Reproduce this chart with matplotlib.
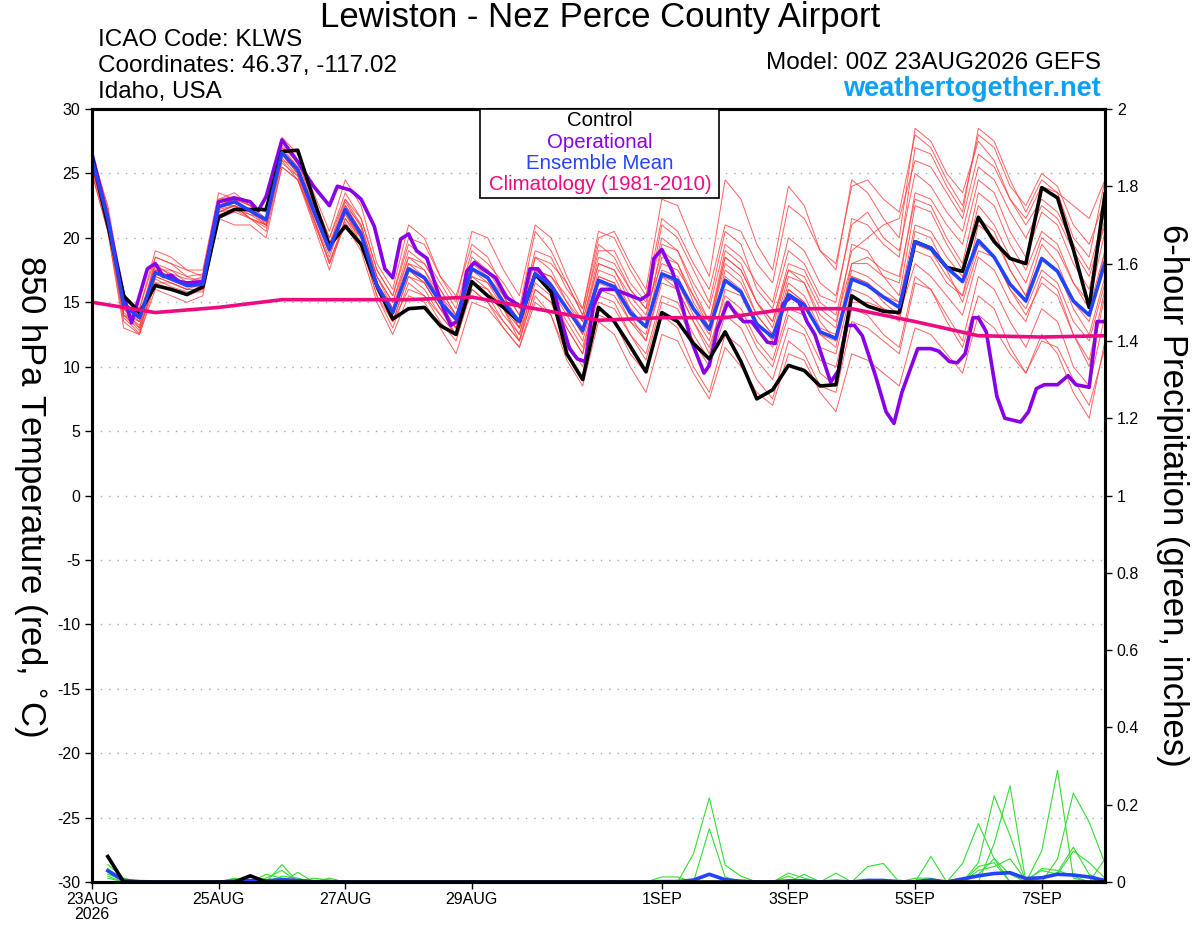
import numpy as np
import matplotlib
matplotlib.use('Agg')
import matplotlib.pyplot as plt
from matplotlib.patches import Rectangle

plt.rcParams['font.family'] = ['Liberation Sans', 'DejaVu Sans']
plt.rcParams['axes.unicode_minus'] = False

# forecast hours (6-hourly, 23AUG 00Z to 8SEP 00Z)
hours = np.arange(0, 385, 6)

tick_hours = [0, 48, 96, 144, 216, 264, 312, 360]
tick_labels = ['23AUG\n2026', '25AUG', '27AUG', '29AUG', '1SEP', '3SEP', '5SEP', '7SEP']

# 850 hPa temperature (C)
control = [26.3, 21.0, 15.5, 14.2, 16.3, 16.0, 15.6, 16.2, 21.6, 22.2,
           22.2, 22.2, 26.7, 26.8, 23.0, 19.4, 20.9, 19.5, 16.3, 13.7,
           14.5, 14.6, 13.2, 12.5, 16.6, 15.5, 14.6, 13.5, 17.2, 15.8,
           11.0, 9.0, 14.6, 13.5, 11.6, 9.6, 14.2, 13.5, 11.8, 10.6,
           12.7, 10.4, 7.5, 8.2, 10.1, 9.7, 8.5, 8.6, 15.5, 14.7,
           14.3, 14.2, 19.7, 19.2, 17.7, 17.4, 21.6, 19.7, 18.4, 18.0,
           23.9, 23.1, 19.1, 14.6, 23.4]
ens_mean = [26.1, 21.5, 14.8, 13.8, 17.3, 16.8, 16.3, 16.4, 22.4, 22.8,
            22.1, 21.4, 26.6, 25.3, 22.1, 19.1, 22.2, 20.3, 16.3, 14.2,
            17.6, 16.9, 15.0, 13.7, 17.6, 16.9, 15.0, 13.5, 17.2, 16.3,
            14.5, 12.8, 16.7, 16.2, 14.2, 13.1, 17.2, 16.7, 14.5, 12.9,
            16.7, 15.8, 13.3, 12.3, 15.6, 14.8, 12.7, 12.2, 16.8, 16.3,
            15.4, 14.6, 19.7, 19.2, 17.7, 16.6, 19.8, 18.5, 16.4, 15.1,
            18.4, 17.4, 15.1, 14.0, 18.1]

# operational run (finer time steps)
op_hours = [0, 6, 12, 15, 18, 21, 24, 27, 30, 33, 36, 42, 48, 54, 60, 63, 66,
            72, 78, 84, 90, 93, 98, 102, 107, 111, 114, 117, 120, 123, 127,
            129, 133, 136, 139, 142, 145, 148, 153, 157, 163, 166, 169, 175,
            178, 181, 184, 187, 190, 193, 198, 203, 208, 211, 213, 216, 220,
            223, 227, 232, 234, 237, 241, 244, 247, 250, 256, 259, 262, 265,
            268, 271, 274, 280, 283, 286, 289, 292, 297, 301, 304, 307, 313,
            318, 321, 325, 328, 331, 334, 336, 339, 343, 346, 352, 355, 358,
            361, 366, 370, 373, 378, 381, 384]
op_temp = [26.5, 21.5, 15.5, 13.4, 15.5, 17.6, 18.0, 17.0, 17.1, 16.6, 16.5,
           16.6, 22.8, 23.1, 22.8, 22.1, 23.2, 27.6, 25.9, 24.0, 22.5, 24.0,
           23.7, 23.0, 20.9, 17.6, 16.9, 19.9, 20.3, 19.0, 18.4, 17.1, 14.6,
           13.2, 13.6, 17.4, 18.1, 17.6, 16.9, 15.4, 14.6, 17.6, 17.6, 16.0,
           13.5, 11.4, 10.6, 10.4, 14.7, 16.0, 16.0, 15.6, 15.2, 15.6, 18.4,
           19.1, 17.4, 15.3, 12.1, 9.5, 10.1, 12.9, 15.0, 14.1, 13.5, 13.5,
           11.9, 11.8, 14.9, 15.4, 15.0, 13.5, 12.5, 8.8, 9.7, 13.2, 13.2,
           12.4, 9.3, 6.5, 5.6, 8.0, 11.4, 11.4, 11.2, 10.4, 10.3, 11.0,
           13.8, 13.8, 12.7, 7.7, 6.0, 5.7, 6.5, 8.3, 8.6, 8.6, 9.3, 8.6,
           8.4, 13.5, 13.5]

clim_hours = [0, 24, 48, 72, 96, 120, 144, 168, 192, 216, 240, 264, 288, 312, 336, 360, 384]
clim_temp = [15.0, 14.2, 14.6, 15.2, 15.2, 15.2, 15.4, 14.5, 13.6, 13.8, 13.8,
             14.5, 14.5, 13.5, 12.4, 12.3, 12.4]

# ensemble members
mem01 = [25.5, 21.0, 14.0, 13.0, 18.5, 18.0, 17.0, 17.2, 23.0, 23.2, 22.5, 21.0, 27.5, 26.0, 23.0, 20.0, 23.5,
         21.5, 17.5, 15.5, 19.5, 18.5, 16.5, 14.5, 19.0, 18.0, 16.5, 14.5, 20.5, 19.0, 16.5, 14.0, 19.5,
         18.5, 16.0, 14.5, 21.0, 20.0, 17.5, 15.0, 20.5, 19.5, 16.0, 14.5, 19.0, 18.0, 15.5, 15.0, 21.5,
         21.0, 19.5, 18.5, 27.0, 26.5, 24.0, 22.0, 28.5, 27.5, 24.5, 22.0, 24.5, 23.5, 20.0, 18.5, 24.5]
mem02 = [25.0, 20.5, 13.0, 12.5, 16.0, 15.5, 15.0, 15.5, 21.5, 22.0, 21.5, 20.5, 25.5, 24.5, 21.5, 18.0, 21.0,
         19.0, 15.0, 12.5, 15.5, 15.0, 13.0, 11.0, 15.0, 14.5, 13.0, 11.5, 15.5, 14.0, 10.5, 8.5, 13.5,
         12.5, 10.0, 8.0, 12.5, 12.0, 9.5, 7.5, 11.5, 10.0, 8.0, 7.0, 11.0, 10.5, 8.0, 6.5, 11.0,
         10.5, 9.5, 8.5, 13.0, 12.5, 11.0, 9.5, 14.0, 13.0, 11.0, 9.5, 12.0, 11.5, 9.0, 7.0, 11.5]
mem03 = [26.0, 22.0, 15.0, 14.0, 17.5, 17.0, 16.5, 16.5, 22.5, 23.0, 22.0, 21.5, 26.5, 25.0, 22.0, 19.0, 22.5,
         20.5, 16.0, 14.0, 18.0, 17.5, 15.0, 13.5, 18.5, 17.5, 15.5, 13.0, 18.5, 17.5, 15.0, 13.0, 18.0,
         17.5, 15.0, 13.5, 19.5, 19.0, 16.0, 13.5, 19.0, 18.0, 15.0, 13.5, 17.5, 16.5, 14.0, 13.0, 19.5,
         19.0, 17.0, 15.5, 22.5, 22.0, 19.5, 17.5, 22.5, 21.0, 18.5, 16.5, 20.0, 19.0, 16.5, 15.0, 20.5]
mem04 = [26.5, 22.5, 15.5, 14.5, 19.0, 18.5, 17.5, 17.5, 23.5, 23.0, 22.5, 22.0, 27.8, 26.5, 23.5, 20.5, 24.5,
         22.5, 18.0, 16.0, 21.0, 20.0, 17.0, 15.0, 20.5, 20.0, 17.5, 15.5, 21.0, 20.0, 17.0, 14.5, 20.0,
         20.5, 18.0, 16.0, 23.0, 22.5, 19.5, 17.0, 24.5, 23.0, 19.5, 17.5, 24.0, 22.5, 19.0, 17.5, 24.5,
         23.5, 21.5, 20.0, 28.5, 27.5, 25.0, 23.5, 27.5, 26.0, 23.0, 21.0, 23.0, 22.0, 19.5, 17.5, 22.0]
mem05 = [25.8, 21.5, 14.5, 13.5, 17.0, 16.5, 16.0, 16.0, 22.0, 22.5, 22.0, 21.0, 26.0, 25.5, 22.5, 19.5, 22.0,
         20.0, 16.5, 14.5, 17.5, 16.5, 14.5, 13.0, 17.0, 16.0, 14.0, 12.5, 16.5, 15.5, 13.5, 11.5, 16.0,
         15.5, 13.5, 12.0, 16.5, 16.0, 13.5, 11.5, 15.5, 14.5, 12.0, 10.5, 14.5, 14.0, 11.5, 11.0, 16.0,
         15.5, 14.5, 13.5, 19.5, 19.0, 17.0, 15.5, 21.0, 20.0, 17.5, 15.5, 19.5, 18.0, 15.0, 13.5, 19.0]
mem06 = [25.5, 21.0, 14.0, 13.5, 17.5, 17.5, 17.0, 16.5, 22.5, 22.5, 21.5, 21.0, 26.5, 25.0, 22.0, 19.0, 22.0,
         20.5, 17.0, 15.0, 19.0, 18.0, 16.0, 14.0, 17.5, 17.0, 15.5, 13.5, 17.5, 17.0, 15.5, 13.5, 18.5,
         18.0, 16.0, 14.5, 18.0, 17.5, 15.5, 13.5, 18.5, 17.5, 15.0, 13.5, 18.0, 17.5, 15.0, 14.0, 19.0,
         20.0, 21.0, 21.5, 26.0, 25.5, 23.5, 21.5, 26.5, 25.5, 23.0, 21.5, 24.0, 23.5, 22.5, 21.5, 24.5]
mem07 = [26.0, 21.5, 14.5, 13.0, 16.5, 16.0, 15.5, 16.0, 22.0, 22.5, 22.0, 21.5, 26.0, 24.5, 21.0, 17.5, 21.5,
         19.5, 15.5, 13.0, 16.5, 15.5, 13.5, 12.0, 16.0, 15.0, 13.0, 11.5, 15.0, 14.0, 11.0, 9.0, 14.0,
         13.5, 11.0, 9.5, 14.0, 13.0, 10.0, 8.0, 12.5, 11.5, 9.0, 7.5, 12.0, 11.0, 8.5, 8.0, 13.5,
         13.0, 12.0, 11.0, 16.5, 16.0, 14.0, 12.0, 17.0, 16.0, 13.5, 11.5, 14.5, 13.5, 10.0, 8.5, 14.0]
mem08 = [26.5, 22.0, 15.0, 14.0, 18.0, 17.0, 16.5, 17.0, 23.0, 23.5, 22.5, 22.0, 27.0, 26.0, 22.5, 19.5, 23.0,
         21.0, 17.0, 14.5, 18.5, 18.0, 16.0, 14.0, 18.0, 17.5, 16.0, 14.0, 19.0, 18.5, 16.0, 14.5, 20.5,
         20.0, 17.5, 15.5, 21.5, 20.5, 18.0, 16.0, 21.0, 20.5, 18.0, 16.5, 22.5, 21.5, 19.0, 18.0, 24.0,
         24.5, 23.0, 22.0, 28.0, 27.0, 24.5, 22.5, 28.0, 27.0, 24.0, 22.5, 25.0, 24.0, 21.0, 19.5, 23.0]
mem09 = [25.0, 20.5, 13.5, 12.5, 16.5, 16.5, 16.0, 16.5, 21.5, 21.0, 21.0, 20.0, 25.5, 24.5, 21.5, 18.5, 22.0,
         19.5, 16.0, 13.5, 17.0, 16.5, 14.5, 12.5, 16.5, 16.0, 14.5, 12.0, 17.0, 16.0, 13.0, 11.0, 17.0,
         16.5, 14.0, 12.0, 17.0, 16.0, 13.5, 11.0, 16.0, 15.5, 13.0, 11.5, 16.0, 15.0, 12.5, 11.5, 17.0,
         16.5, 15.0, 14.0, 20.5, 20.0, 17.5, 15.0, 19.0, 18.5, 16.0, 14.0, 16.5, 15.5, 12.5, 10.0, 15.5]
mem10 = [26.0, 21.5, 14.0, 12.8, 17.0, 16.5, 16.0, 16.0, 22.0, 22.5, 21.5, 21.0, 26.5, 25.0, 21.5, 18.0, 21.5,
         20.0, 16.0, 13.5, 16.0, 15.5, 14.0, 12.5, 16.0, 15.0, 13.5, 12.0, 16.0, 15.0, 12.0, 10.0, 15.0,
         14.5, 12.5, 10.5, 15.0, 14.5, 12.0, 10.0, 14.0, 13.0, 10.5, 9.0, 13.0, 12.5, 9.5, 8.5, 14.5,
         14.0, 12.5, 11.5, 17.0, 16.0, 13.5, 11.5, 15.5, 14.5, 11.5, 9.5, 12.5, 11.0, 8.0, 6.0, 12.0]
mem11 = [25.5, 21.0, 14.5, 13.5, 18.0, 17.5, 16.5, 16.5, 22.5, 23.0, 22.5, 21.5, 27.0, 25.5, 22.5, 19.5, 22.5,
         21.0, 17.0, 15.0, 18.5, 17.5, 15.5, 14.0, 18.0, 17.0, 15.0, 13.5, 17.5, 16.5, 14.5, 12.5, 17.5,
         17.0, 14.5, 13.0, 18.5, 18.0, 15.5, 13.0, 18.0, 17.0, 14.0, 12.5, 17.0, 16.5, 13.5, 12.0, 18.0,
         18.0, 17.0, 16.5, 23.5, 23.0, 21.0, 19.5, 24.5, 23.5, 20.5, 18.5, 22.0, 21.0, 18.0, 16.0, 21.5]
mem12 = [26.2, 21.8, 14.8, 13.8, 17.8, 17.2, 16.8, 16.8, 22.8, 22.8, 22.0, 21.2, 26.8, 25.5, 22.0, 19.0, 22.8,
         20.8, 16.5, 14.5, 18.0, 17.0, 15.5, 13.5, 17.5, 16.5, 15.0, 13.0, 17.0, 16.0, 14.0, 12.0, 16.5,
         16.0, 13.5, 12.5, 17.5, 17.0, 14.5, 12.5, 17.0, 16.0, 13.5, 12.0, 16.5, 15.5, 13.0, 12.5, 17.5,
         17.0, 16.0, 15.0, 21.0, 20.5, 18.5, 17.0, 21.5, 20.5, 17.5, 15.5, 18.5, 17.5, 14.5, 12.5, 17.0]
mem13 = [25.3, 20.8, 13.8, 12.6, 17.2, 16.8, 16.2, 16.5, 22.2, 22.5, 21.8, 21.0, 26.2, 24.8, 21.8, 18.8, 21.8,
         20.0, 16.5, 14.0, 17.5, 17.0, 15.0, 13.0, 17.0, 16.5, 14.5, 13.0, 17.5, 16.5, 14.5, 12.5, 17.0,
         16.5, 14.5, 13.0, 17.0, 16.5, 14.0, 12.0, 17.5, 16.5, 14.0, 12.5, 16.0, 15.0, 12.5, 12.0, 17.0,
         16.5, 15.5, 15.0, 19.0, 18.5, 16.5, 15.5, 19.5, 18.5, 16.0, 14.5, 17.5, 16.5, 13.5, 12.0, 16.5]
mem14 = [26.8, 22.2, 15.2, 14.5, 18.5, 18.0, 17.5, 17.0, 22.5, 23.0, 22.0, 21.5, 27.2, 25.8, 23.0, 20.0, 23.0,
         21.5, 17.5, 15.5, 20.0, 19.5, 17.0, 15.5, 19.5, 18.5, 16.0, 14.0, 18.5, 18.0, 16.5, 14.0, 19.0,
         19.0, 16.5, 15.0, 20.0, 19.0, 16.5, 14.5, 19.5, 18.5, 16.5, 15.0, 20.0, 19.0, 16.5, 15.5, 21.0,
         22.0, 20.0, 19.0, 25.0, 24.0, 22.0, 20.5, 25.5, 24.5, 22.0, 20.0, 22.5, 21.5, 19.0, 17.0, 21.0]
mem15 = [25.5, 21.2, 14.2, 13.2, 16.8, 16.2, 15.8, 15.8, 21.8, 22.2, 21.5, 20.8, 25.8, 24.8, 21.2, 18.2, 21.2,
         19.5, 15.5, 13.5, 17.0, 16.0, 14.0, 12.5, 16.5, 15.5, 13.5, 12.0, 16.0, 15.0, 13.0, 11.0, 15.5,
         15.0, 12.5, 11.0, 15.5, 15.0, 12.5, 10.5, 15.0, 14.0, 11.5, 10.0, 14.0, 13.0, 10.5, 10.0, 15.0,
         15.0, 14.5, 14.0, 18.0, 17.0, 15.5, 14.0, 18.5, 17.5, 15.0, 13.5, 17.0, 16.0, 12.5, 10.5, 16.0]
mem16 = [26.0, 21.8, 14.8, 14.0, 17.5, 17.0, 16.2, 16.2, 22.0, 22.2, 21.8, 21.5, 26.5, 25.0, 22.0, 19.2, 22.5,
         20.5, 16.0, 14.0, 17.5, 16.5, 14.5, 13.0, 17.5, 17.0, 14.5, 12.5, 17.5, 17.0, 15.0, 13.5, 18.0,
         17.5, 15.5, 14.0, 19.0, 18.0, 15.0, 13.0, 18.5, 17.5, 15.0, 13.0, 17.5, 17.0, 14.5, 13.5, 18.0,
         18.5, 17.5, 17.0, 23.0, 22.5, 20.0, 18.0, 23.5, 22.5, 19.5, 17.5, 20.5, 19.5, 16.5, 14.5, 19.0]
members = [mem01, mem02, mem03, mem04, mem05, mem06, mem07, mem08,
           mem09, mem10, mem11, mem12, mem13, mem14, mem15, mem16]

# 6-hour precipitation (inches)
nan = np.nan
pcp_control = [nan, .066, 0, 0, 0, 0, 0, 0, 0, 0,
               .016, 0, 0, 0, 0, 0, 0, 0, 0, 0,
               0, 0, 0, 0, 0, 0, 0, 0, 0, 0,
               0, 0, 0, 0, 0, 0, 0, 0, 0, 0,
               0, 0, 0, 0, 0, 0, 0, 0, 0, 0,
               0, 0, 0, 0, 0, 0, 0, 0, 0, 0,
               0, 0, 0, 0, 0]
pcp_mean = [nan, .029, .004, .001, 0, 0, 0, 0, 0, .002,
            .004, .003, .006, .004, .001, .001, 0, 0, 0, 0,
            0, 0, 0, 0, 0, 0, 0, 0, 0, 0,
            0, 0, 0, 0, 0, 0, .001, .001, .005, .02,
            .006, .002, 0, 0, .003, .003, 0, .002, 0, .004,
            .004, 0, .001, .005, 0, .008, .016, .022, .024, .009,
            .011, .02, .018, .013, .004]
pcp01 = [nan, .045, .01, 0, 0, 0, 0, 0, 0, 0,
         0, 0, .045, 0, 0, 0, 0, 0, 0, 0,
         0, 0, 0, 0, 0, 0, 0, 0, 0, 0,
         0, 0, 0, 0, 0, 0, 0, 0, .073, .218,
         .044, .015, 0, 0, 0, 0, 0, 0, 0, 0,
         0, 0, 0, 0, 0, 0, .05, .223, .12, 0,
         0, 0, 0, 0, 0]
pcp02 = [nan, .035, .005, 0, 0, 0, 0, 0, 0, .01,
         0, 0, 0, .025, 0, 0, 0, 0, 0, 0,
         0, 0, 0, 0, 0, 0, 0, 0, 0, 0,
         0, 0, 0, 0, 0, 0, 0, 0, 0, .138,
         .013, 0, 0, 0, .023, .01, 0, 0, 0, 0,
         0, 0, 0, 0, 0, .048, .151, .06, 0, 0,
         .08, .289, .01, 0, 0]
pcp03 = [nan, .025, 0, 0, 0, 0, 0, 0, 0, 0,
         0, 0, .015, .01, 0, 0, 0, 0, 0, 0,
         0, 0, 0, 0, 0, 0, 0, 0, 0, 0,
         0, 0, 0, 0, 0, 0, .013, .013, 0, 0,
         0, 0, 0, 0, 0, 0, 0, .023, 0, 0,
         0, 0, 0, .066, 0, 0, 0, .1, .249, 0,
         0, .06, .23, .155, .048]
pcp04 = [nan, .015, 0, 0, 0, 0, 0, 0, 0, 0,
         0, .01, .03, 0, 0, .01, 0, 0, 0, 0,
         0, 0, 0, 0, 0, 0, 0, 0, 0, 0,
         0, 0, 0, 0, 0, 0, 0, 0, 0, 0,
         0, 0, 0, 0, 0, .02, 0, 0, 0, .04,
         .048, 0, 0, 0, 0, 0, .03, .04, .06, .005,
         .03, .02, .08, .05, .01]
pcp05 = [nan, .01, 0, 0, 0, 0, 0, 0, 0, .008,
         0, .02, .01, 0, 0, 0, 0, 0, 0, 0,
         0, 0, 0, 0, 0, 0, 0, 0, 0, 0,
         0, 0, 0, .003, 0, 0, 0, 0, 0, 0,
         0, 0, 0, 0, .015, 0, 0, 0, 0, 0,
         .005, .005, 0, 0, 0, 0, .04, .05, 0, 0,
         .035, .03, .015, 0, .06]
pcp06 = [nan, .02, .005, 0, 0, 0, 0, 0, 0, 0,
         0, 0, 0, 0, .01, .005, 0, 0, 0, 0,
         0, 0, 0, 0, 0, 0, 0, 0, 0, 0,
         0, 0, 0, 0, 0, 0, 0, 0, 0, 0,
         0, 0, 0, 0, 0, .005, 0, 0, 0, 0,
         0, 0, .01, .01, 0, 0, .02, .06, .02, 0,
         .01, .025, .09, .02, 0]
pcp_members = [pcp01, pcp02, pcp03, pcp04, pcp05, pcp06]

purple = '#8a00e6'
blue = '#2244ff'
magenta = '#ee0a80'

fig = plt.figure(figsize=(12, 9.27), dpi=100)
ax = fig.add_axes([92/1200, 1 - 882/927, 1013/1200, 773/927])

for m in members:
    ax.plot(hours, m, color='#ff3b3b', lw=0.7, alpha=0.8, zorder=2)
ax.plot(op_hours, op_temp, color=purple, lw=2.6, zorder=3)
ax.plot(hours, control, color='black', lw=2.6, zorder=4)
ax.plot(hours, ens_mean, color=blue, lw=2.6, zorder=5)
ax.plot(clim_hours, clim_temp, color=magenta, lw=2.6, zorder=6)

ax.set_xlim(0, 384)
ax.set_ylim(-30, 30)
ax.set_yticks(np.arange(-30, 31, 5))
ax.set_xticks(tick_hours)
ax.set_xticklabels(tick_labels, fontsize=11.5, linespacing=1.0)
ax.tick_params(axis='y', labelsize=11.5, direction='out', length=5, width=1)
ax.tick_params(axis='x', direction='out', length=5, width=1, pad=2)
for yv in range(-25, 30, 5):
    ax.axhline(yv, color='#aaaaaa', lw=1, ls=(0, (1, 5)), zorder=1)
for s in ax.spines.values():
    s.set_linewidth(2.2)
ax.set_ylabel(r'850 hPa Temperature (red, $^{\circ}$C)', fontsize=25,
              rotation=270, ha='center', va='center')
ax.yaxis.set_label_coords((30 - 92) / 1013, 0.5)

# precipitation axis
ax2 = ax.twinx()
for p in pcp_members:
    ax2.plot(hours, p, color='#33dd33', lw=0.8)
ax2.plot(hours, pcp_mean, color=blue, lw=2.6)
ax2.plot(hours, pcp_control, color='black', lw=2.6)
ax2.set_ylim(0, 2)
ax2.set_yticks(np.arange(0, 2.01, 0.2))
ax2.set_yticklabels(['0', '0.2', '0.4', '0.6', '0.8', '1', '1.2', '1.4', '1.6', '1.8', '2'])
ax2.tick_params(axis='y', labelsize=11.5, direction='out', length=5, width=1)
for s in ax2.spines.values():
    s.set_linewidth(2.2)
ax2.set_ylabel('6-hour Precipitation (green, inches)', fontsize=25,
               rotation=270, ha='center', va='center')
ax2.yaxis.set_label_coords((1172 - 92) / 1013, 0.5)

# header text
fig.text(0.5, 1 - 18/927, 'Lewiston - Nez Perce County Airport', fontsize=25,
         ha='center', va='center')
fig.text(98/1200, 1 - 40/927, 'ICAO Code: KLWS', fontsize=17.5, va='center')
fig.text(98/1200, 1 - 66/927, 'Coordinates: 46.37, -117.02', fontsize=17.5, va='center')
fig.text(98/1200, 1 - 92/927, 'Idaho, USA', fontsize=17.5, va='center')
fig.text(1101/1200, 1 - 63/927, 'Model: 00Z 23AUG2026 GEFS', fontsize=17.5,
         ha='right', va='center')
fig.text(1101/1200, 1 - 89/927, 'weathertogether.net', fontsize=19.5,
         fontweight='bold', color='#0da0f5', ha='right', va='center')

# legend box
fig.patches.append(Rectangle((480/1200, 1 - 198/927), 239/1200, 89/927,
                             transform=fig.transFigure, fill=True, fc='white',
                             ec='black', lw=1.2, zorder=10))
legend_items = [('Control', 'black'), ('Operational', purple),
                ('Ensemble Mean', blue), ('Climatology (1981-2010)', magenta)]
for k, (txt, col) in enumerate(legend_items):
    fig.text(600/1200, 1 - (121 + 21.3*k)/927, txt, color=col, fontsize=14.7,
             ha='center', va='center', zorder=11)

fig.savefig('out.png', dpi=100)
